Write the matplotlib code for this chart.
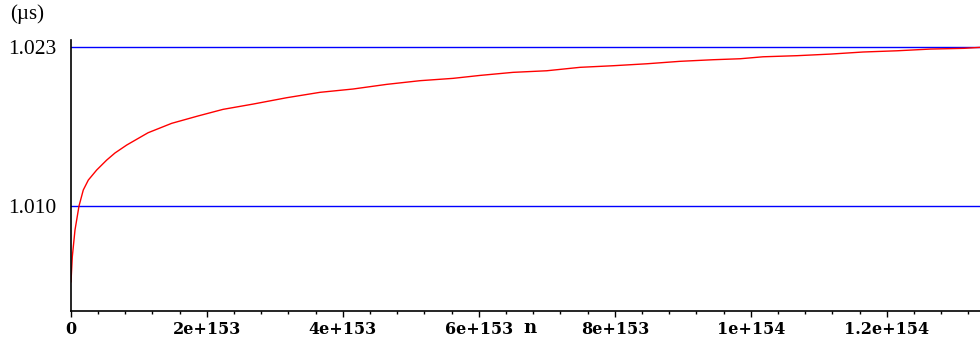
import numpy as np
import matplotlib
matplotlib.use('Agg')
import matplotlib.pyplot as plt
from matplotlib.ticker import FixedLocator, FixedFormatter, MultipleLocator

# curve: n (units of 1e153) vs time (us)
n_e153 = [0.0044, 0.0235, 0.063, 0.122, 0.185, 0.259, 0.382, 0.529, 0.651, 0.824,
          1.137, 1.485, 1.872, 2.240, 2.681, 3.176, 3.666, 4.151, 4.647, 5.137,
          5.622, 6.019, 6.504, 7.000, 7.490, 7.975, 8.471, 8.960, 9.446, 9.843,
          10.18, 10.68, 11.17, 11.65, 12.15, 12.64, 13.13, 13.38]
t_us = [1.00382, 1.00586, 1.00804, 1.01000, 1.01131, 1.01212, 1.01294, 1.01375,
        1.01433, 1.01498, 1.01598, 1.01675, 1.01735, 1.01789, 1.01832, 1.01884,
        1.01928, 1.01955, 1.01993, 1.02023, 1.02042, 1.02066, 1.02091, 1.02104,
        1.02132, 1.02145, 1.02161, 1.02181, 1.02194, 1.02202, 1.02218, 1.02227,
        1.02240, 1.02257, 1.02267, 1.02281, 1.02287, 1.02295]

ref_levels = [1.023, 1.010]
ref_labels = ['1.023', '1.010']
xtick_vals = [0, 2e153, 4e153, 6e153, 8e153, 1e154, 1.2e154]
xtick_labels = ['0', '2e+153', '4e+153', '6e+153', '8e+153', '1e+154', '1.2e+154']

n = np.array(n_e153) * 1e153

fig = plt.figure(figsize=(9.8, 3.39), dpi=100)
ax = fig.add_axes([70.7/980, (339-310.7)/339, 1 - 70.7/980, (310.7-40)/339])

for lvl in ref_levels:
    ax.axhline(lvl, color='#0000ff', lw=1.0)
ax.plot(n, t_us, color='#ff0000', lw=1.0)

ax.set_xlim(0, 13.37e153)
ax.set_ylim(1.00146, 1.02355)

for s in ['top', 'right']:
    ax.spines[s].set_visible(False)
ax.spines['left'].set_linewidth(1.2)
ax.spines['bottom'].set_linewidth(1.2)

ax.yaxis.set_major_locator(FixedLocator(ref_levels))
ax.yaxis.set_major_formatter(FixedFormatter(ref_labels))
ax.tick_params(axis='y', length=0, pad=10, labelsize=15.5)
for lab in ax.get_yticklabels():
    lab.set_fontfamily('Liberation Serif')

ax.xaxis.set_major_locator(FixedLocator(xtick_vals))
ax.xaxis.set_major_formatter(FixedFormatter(xtick_labels))
ax.xaxis.set_minor_locator(MultipleLocator(0.4e153))
ax.tick_params(axis='x', which='major', length=4.5, width=1, pad=3, labelsize=11.5)
ax.tick_params(axis='x', which='minor', length=2.3, width=1)
for lab in ax.get_xticklabels():
    lab.set_fontfamily('DejaVu Serif')
    lab.set_fontweight('bold')

fig.text(10/980, 1 - 4/339, '(\u00b5s)', ha='left', va='top',
         fontsize=15, family='Liberation Serif')
fig.text(530/980, 1 - 337/339, 'n', ha='center', va='bottom',
         fontsize=13, family='DejaVu Serif', fontweight='bold')

fig.savefig('out.png', dpi=100)
